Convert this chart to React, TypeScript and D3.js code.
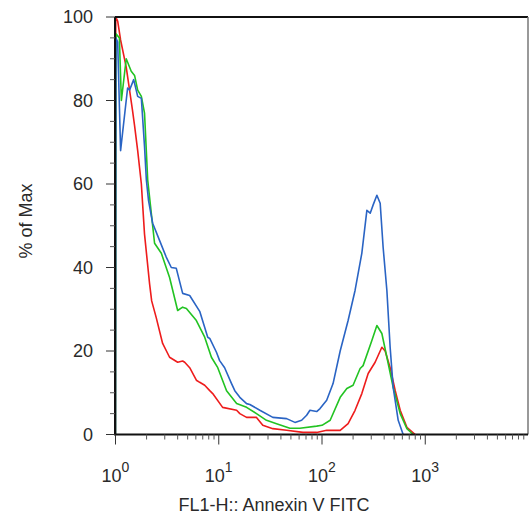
import React from "react";
import * as d3 from "d3";

type Pt = [number, number];

const redSeries: Pt[] = [
  [1, 0], [1.005, 100], [1.05, 99], [1.12, 94.5], [1.27, 88], [1.46, 77.7], [1.53, 74], [1.64, 68],
  [1.78, 60], [1.91, 48], [2.14, 36], [2.24, 32], [2.48, 28], [2.86, 21.8], [3.34, 18.5], [4, 17.3],
  [4.47, 17.6], [4.68, 17.3], [5.23, 16], [6.07, 13], [6.54, 12.5], [7.31, 11.8], [8.18, 10.5],
  [8.74, 9.8], [10.9, 6.5], [14.9, 5.8], [16, 5], [18.6, 4.1], [23.2, 4.1], [26.7, 2.2], [33.4, 1.4],
  [45.4, 1], [65.4, 0.5], [88.8, 0.5], [111, 1], [150, 1], [179, 2.6], [209, 5.8], [243, 9.8],
  [280, 14.6], [327, 17.3], [380, 20.9], [409, 20], [457, 16], [512, 10.5], [572, 5.8], [664, 1.7],
  [800, 0],
];

const greenSeries: Pt[] = [
  [1, 0], [1.01, 96], [1.09, 95], [1.14, 80], [1.27, 90], [1.42, 87], [1.53, 86], [1.64, 82.5],
  [1.78, 81], [1.91, 77], [2.05, 61], [2.39, 45.8], [2.78, 43.4], [3.34, 37.6], [4, 29.7],
  [4.47, 30.5], [4.86, 30.2], [6.07, 27.3], [7.31, 23.3], [8.49, 18.5], [9.78, 16], [11.9, 10.5],
  [14.9, 7.4], [18.6, 6.5], [23.2, 5], [29, 3.4], [36.3, 2.6], [48.9, 1.5], [61, 1.5], [88.8, 2],
  [100, 2.2], [120, 3.4], [150, 8.9], [174, 11], [200, 11.8], [234, 15.8], [250, 16.5], [304, 22.5],
  [340, 26.1], [380, 24.2], [425, 18.5], [489, 11.3], [572, 5], [664, 1.4], [764, 0],
];

const blueSeries: Pt[] = [
  [1, 0], [1.01, 95], [1.05, 94], [1.12, 68], [1.31, 83], [1.37, 82.5], [1.5, 85], [1.64, 81],
  [1.78, 80.5], [1.91, 69], [1.99, 61], [2.09, 56], [2.29, 50.6], [2.67, 46.5], [3.1, 42.5],
  [3.47, 40], [3.88, 39.8], [4.47, 33.8], [5.23, 33.3], [6.54, 29.5], [7.82, 23.3], [8.18, 23],
  [9.5, 19.7], [10.2, 17.7], [11.4, 16], [13.3, 12.2], [14.3, 10.5], [16, 8.9], [18.6, 7.4],
  [20, 7.2], [25, 5.8], [33.4, 4.1], [45.4, 3.8], [54.7, 2.9], [63.5, 3.4], [71, 4.6], [76.4, 5.8],
  [88.8, 5.5], [95.7, 6.2], [111, 8.2], [128, 12.2], [150, 20], [179, 27.3], [209, 34.5],
  [243, 43.4], [272, 53.7], [293, 53], [313, 55], [340, 57.3], [366, 55.4], [391, 44.8],
  [425, 34.5], [457, 20.9], [489, 11.3], [547, 3.4], [611, 0],
];

const yTicks = [0, 20, 40, 60, 80, 100];
const xDecades = [0, 1, 2, 3];
const xTitle = "FL1-H:: Annexin V FITC";
const yTitle = "% of Max";

export default function App() {
  const W = 530, H = 519;
  const left = 115, right = 528, top = 17, bottom = 434.5;
  const x = d3.scaleLog().domain([1, 10000]).range([left + 0.5, right + 0.5]);
  const y = d3.scaleLinear().domain([0, 100]).range([bottom, top]);
  const line = d3.line<Pt>().x((d) => x(d[0])).y((d) => y(d[1]));

  const yMinor = d3.range(0, 101, 5).filter((v) => v % 20 !== 0);
  const xMinor: number[] = [];
  for (let d = 0; d < 4; d++) for (let m = 2; m <= 9; m++) xMinor.push(m * Math.pow(10, d));

  const font = "'Liberation Sans', Arial, sans-serif";
  const txt = "#2a2a2a";

  return (
    <svg width={W} height={H} style={{ position: "absolute", left: 0, top: 0, background: "#fff" }} fontFamily={font}>
      <rect x={0} y={0} width={W} height={H} fill="#fff" />
      {/* curves */}
      <g fill="none" strokeWidth={1.6} strokeLinejoin="round">
        <path d={line(redSeries) || ""} stroke="#ee1c1c" />
        <path d={line(greenSeries) || ""} stroke="#22c322" />
        <path d={line(blueSeries) || ""} stroke="#2a64c4" />
      </g>
      {/* frame */}
      <line x1={left} x2={right} y1={top} y2={top} stroke="#111" strokeWidth={2} />
      <line x1={right} x2={right} y1={top} y2={bottom} stroke="#777" strokeWidth={1.5} />
      <line x1={left} x2={left} y1={top} y2={bottom + 1} stroke="#111" strokeWidth={2} />
      <line x1={left} x2={right} y1={bottom} y2={bottom} stroke="#111" strokeWidth={2} />
      {/* y ticks */}
      {yTicks.map((t) => (
        <g key={"yt" + t}>
          <line x1={left - 9} x2={left} y1={y(t)} y2={y(t)} stroke="#333" strokeWidth={1} />
          <text x={93} y={y(t)} dy="0.36em" textAnchor="end" fontSize={18} fill={txt}>{t}</text>
        </g>
      ))}
      {yMinor.map((t) => (
        <line key={"ym" + t} x1={left - 5} x2={left} y1={y(t)} y2={y(t)} stroke="#555" strokeWidth={1} />
      ))}
      {/* x ticks */}
      {xDecades.map((d) => {
        const px = x(Math.pow(10, d));
        return (
          <g key={"xt" + d}>
            <line x1={px} x2={px} y1={bottom} y2={bottom + 10} stroke="#333" strokeWidth={1} />
            <text x={px - 14} y={482} fontSize={18} fill={txt}>
              10
              <tspan dy={-10} fontSize={14}>{d}</tspan>
            </text>
          </g>
        );
      })}
      {xMinor.map((v) => (
        <line key={"xm" + v} x1={x(v)} x2={x(v)} y1={bottom} y2={bottom + 5} stroke="#555" strokeWidth={1} />
      ))}
      {/* titles */}
      <text x={274} y={511} textAnchor="middle" fontSize={18} fill={txt}>{xTitle}</text>
      <text transform={`translate(32,221) rotate(-90)`} textAnchor="middle" fontSize={18} fill={txt}>{yTitle}</text>
    </svg>
  );
}
